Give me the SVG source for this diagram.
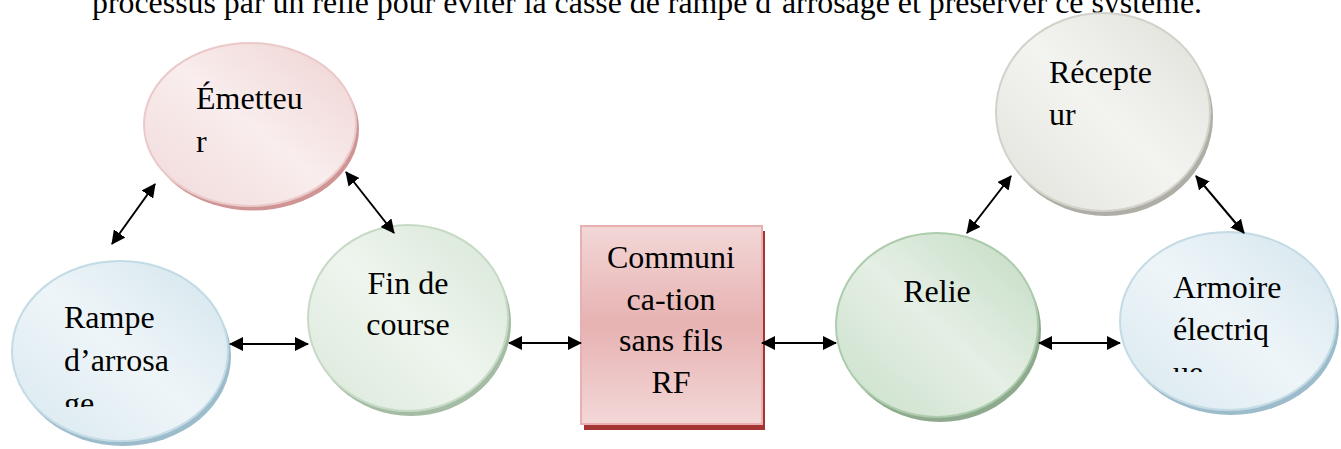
<svg xmlns="http://www.w3.org/2000/svg" width="1341" height="449" viewBox="0 0 1341 449">
<style>
  .t { font-family: "Liberation Serif", "Times New Roman", serif; font-size: 32px; fill: #000; }
  .c { text-anchor: middle; }
  .conn line { stroke: #000; stroke-width: 2; marker-start: url(#ah); marker-end: url(#ah); }
</style>
<defs>
  <marker id="ah" viewBox="0 0 14 14" refX="13" refY="7" markerWidth="14" markerHeight="14" markerUnits="userSpaceOnUse" orient="auto-start-reverse">
    <path d="M0,0 L14,7 L0,14 z" fill="#000"/>
  </marker>
  <linearGradient id="gPink" x1="1" y1="0" x2="0" y2="1">
    <stop offset="0" stop-color="#efd2d2"/>
    <stop offset="0.5" stop-color="#f9eded"/>
    <stop offset="1" stop-color="#f1d9d9"/>
  </linearGradient>
  <linearGradient id="gBlue" x1="1" y1="0" x2="0" y2="1">
    <stop offset="0" stop-color="#d3e5ed"/>
    <stop offset="0.5" stop-color="#eef5f8"/>
    <stop offset="1" stop-color="#d8e8ef"/>
  </linearGradient>
  <linearGradient id="gGreenL" x1="1" y1="0" x2="0" y2="1">
    <stop offset="0" stop-color="#d7e6d7"/>
    <stop offset="0.5" stop-color="#eef5ee"/>
    <stop offset="1" stop-color="#dbe8db"/>
  </linearGradient>
  <linearGradient id="gGreen" x1="1" y1="0" x2="0" y2="1">
    <stop offset="0" stop-color="#c2dbc2"/>
    <stop offset="0.5" stop-color="#e5efe5"/>
    <stop offset="1" stop-color="#c9dfc9"/>
  </linearGradient>
  <linearGradient id="gGrey" x1="1" y1="0" x2="0" y2="1">
    <stop offset="0" stop-color="#e0e0da"/>
    <stop offset="0.5" stop-color="#f3f3f0"/>
    <stop offset="1" stop-color="#e2e2dc"/>
  </linearGradient>
  <linearGradient id="gBox" x1="0" y1="0" x2="0" y2="1">
    <stop offset="0" stop-color="#f3d7d7"/>
    <stop offset="0.5" stop-color="#e7b2b2"/>
    <stop offset="1" stop-color="#f3d7d7"/>
  </linearGradient>
  <clipPath id="clipRampe"><rect x="0" y="250" width="240" height="157"/></clipPath>
  <clipPath id="clipArmoire"><rect x="1110" y="225" width="231" height="147"/></clipPath>
</defs>

<text class="t" x="92" y="13" textLength="1110" lengthAdjust="spacingAndGlyphs">processus par un relie pour éviter la casse de rampe d’arrosage et préserver ce système.</text>

<g id="emetteur">
  <ellipse cx="253" cy="129" rx="106" ry="81.5" fill="#cf9494"/>
  <ellipse cx="250" cy="124.5" rx="106" ry="81.5" fill="url(#gPink)" stroke="#ebc9c9" stroke-width="2"/>
  <text class="t" x="196" y="109">Émetteu</text>
  <text class="t" x="196" y="152">r</text>
</g>

<g id="rampe">
  <ellipse cx="123" cy="356" rx="108" ry="90" fill="#9dbccb"/>
  <ellipse cx="120" cy="351" rx="108" ry="90" fill="url(#gBlue)" stroke="#c3dbe5" stroke-width="2"/>
  <g clip-path="url(#clipRampe)">
    <text class="t" x="64" y="328">Rampe</text>
    <text class="t" x="64" y="371">d’arrosa</text>
    <text class="t" x="64" y="414">ge</text>
  </g>
</g>

<g id="fin">
  <ellipse cx="411" cy="323" rx="100" ry="93" fill="#a4bba4"/>
  <ellipse cx="408" cy="318" rx="100" ry="93" fill="url(#gGreenL)" stroke="#c6dac6" stroke-width="2"/>
  <text class="t c" x="408" y="294">Fin de</text>
  <text class="t c" x="408" y="335">course</text>
</g>

<g id="communication">
  <rect x="584" y="231" width="181" height="199" fill="#a33535"/>
  <rect x="581" y="226" width="181" height="198" fill="url(#gBox)" stroke="#e8b0b0" stroke-width="2"/>
  <text class="t c" x="671" y="268">Communi</text>
  <text class="t c" x="671" y="310">ca-tion</text>
  <text class="t c" x="671" y="351">sans fils</text>
  <text class="t c" x="671" y="393">RF</text>
</g>

<g id="relie">
  <ellipse cx="940" cy="330" rx="101" ry="92" fill="#8ea98e"/>
  <ellipse cx="937" cy="325" rx="101" ry="92" fill="url(#gGreen)" stroke="#acccac" stroke-width="2"/>
  <text class="t c" x="937" y="302">Relie</text>
</g>

<g id="recepteur">
  <ellipse cx="1106" cy="117" rx="107" ry="99" fill="#aeaea6"/>
  <ellipse cx="1103" cy="112" rx="107" ry="99" fill="url(#gGrey)" stroke="#d2d2cb" stroke-width="2"/>
  <text class="t" x="1049" y="83">Récepte</text>
  <text class="t" x="1049" y="125">ur</text>
</g>

<g id="armoire">
  <ellipse cx="1231" cy="326" rx="108" ry="89" fill="#9dbccb"/>
  <ellipse cx="1228" cy="321" rx="108" ry="89" fill="url(#gBlue)" stroke="#c3dbe5" stroke-width="2"/>
  <g clip-path="url(#clipArmoire)">
    <text class="t" x="1173" y="298">Armoire</text>
    <text class="t" x="1173" y="340">électriq</text>
    <text class="t" x="1173" y="383">ue</text>
  </g>
</g>

<g id="connectors" class="conn">
  <line x1="230" y1="344" x2="308" y2="344"/>
  <line x1="509" y1="343" x2="581" y2="343"/>
  <line x1="762" y1="343" x2="836" y2="343"/>
  <line x1="1039" y1="343" x2="1120" y2="343"/>
  <line x1="155" y1="184" x2="112" y2="244"/>
  <line x1="346" y1="172" x2="394" y2="233"/>
  <line x1="1011" y1="176" x2="967" y2="233"/>
  <line x1="1196" y1="176" x2="1244" y2="233"/>
</g>
</svg>
